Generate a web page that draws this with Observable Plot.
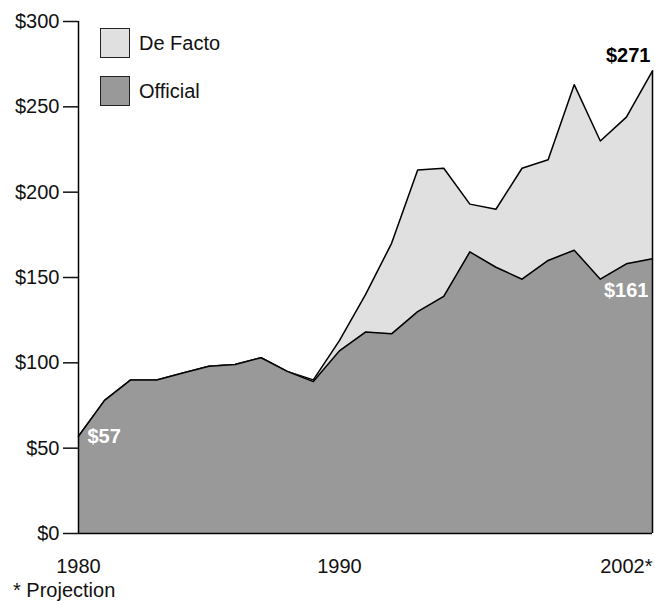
<!DOCTYPE html>
<html>
<head>
<meta charset="utf-8">
<script src="https://cdn.jsdelivr.net/npm/d3@7"></script>
<script src="https://cdn.jsdelivr.net/npm/@observablehq/plot@0.6"></script>
<style>
  body { margin: 0; background: #fff; font-family: "Liberation Sans", Arial, sans-serif; }
  #wrap { position: relative; width: 655px; }
  .legend { position: absolute; left: 100px; top: 0; font-size: 20px; color: #111; }
  .legend .item { position: absolute; left: 0; white-space: nowrap; }
  .legend .sw { position: absolute; left: 0; top: 0; width: 28px; height: 28px; border: 1px solid #222; }
  .legend .lb { position: absolute; left: 39px; top: 3px; line-height: 24px; }
  #caption { font-size: 20px; line-height: 22px; padding-left: 13px; color: #111; margin-top: -1px; }
</style>
</head>
<body>
<div id="wrap">
  <div id="chart"></div>
  <div class="legend" id="legend"></div>
  <div id="caption">* Projection</div>
</div>
<script>
const years = [1980,1981,1982,1983,1984,1985,1986,1987,1988,1989,1990,1991,1992,1993,1994,1995,1996,1997,1998,1999,2000,2001,2002];
const official = [57,78,90,90,94,98,99,103,95,89,107,118,117,130,139,165,156,149,160,166,149,158,161];
const deFacto = [57,78,90,90,94,98,99,103,95,90,113,140,170,213,214,193,190,214,219,263,230,244,271];
const seriesNames = ["De Facto", "Official"];
const seriesColors = ["#e0e0e0", "#999999"];
const yTicks = [0,50,100,150,200,250,300];
const xTicks = [1980, 1990];
const lastTick = [2002];

const data = years.map((y, i) => ({year: y, official: official[i], deFacto: deFacto[i]}));
const first = data[0];
const last = data[data.length - 1];

const plot = Plot.plot({
  width: 655,
  height: 580,
  marginTop: 21,
  marginBottom: 47,
  marginLeft: 78,
  marginRight: 3,
  style: {fontFamily: "'Liberation Sans', Arial, sans-serif", fontSize: "20px", color: "#111", background: "#fff"},
  x: {domain: [years[0], years[years.length - 1]]},
  y: {domain: [0, 300]},
  marks: [
    Plot.areaY(data, {x: "year", y: "deFacto", fill: seriesColors[0]}),
    Plot.lineY(data, {x: "year", y: "deFacto", stroke: "#000", strokeWidth: 1.5}),
    Plot.areaY(data, {x: "year", y: "official", fill: seriesColors[1]}),
    Plot.lineY(data, {x: "year", y: "official", stroke: "#000", strokeWidth: 1.5}),
    Plot.ruleX([last], {x: "year", y1: 0, y2: "deFacto", stroke: "#000", strokeWidth: 1.5}),
    Plot.ruleY([0], {stroke: "#000", strokeWidth: 1.5}),
    Plot.ruleX([first], {x: "year", y1: 0, y2: yTicks[yTicks.length - 1], stroke: "#000", strokeWidth: 1.5}),
    Plot.axisY({ticks: yTicks, tickSize: 15, tickPadding: 4, tickFormat: d => "$" + d, strokeWidth: 1.5, label: null, fontSize: 20}),
    Plot.axisX({ticks: xTicks, tickSize: 0, tickPadding: 25, tickFormat: d => String(d), label: null, fontSize: 20}),
    Plot.axisX({ticks: lastTick, tickSize: 0, tickPadding: 25, tickFormat: d => d + "*", textAnchor: "end", label: null, fontSize: 20}),
    Plot.text([last], {x: "year", y: "deFacto", text: d => "$" + d.deFacto, textAnchor: "end", dx: -2, dy: -15, fontWeight: "bold", fontSize: 20, fill: "#000"}),
    Plot.text([last], {x: "year", y: "official", text: d => "$" + d.official, textAnchor: "end", dx: -4, dy: 32, fontWeight: "bold", fontSize: 20, fill: "#fff"}),
    Plot.text([first], {x: "year", y: "official", text: d => "$" + d.official, textAnchor: "start", dx: 9, dy: 0, fontWeight: "bold", fontSize: 20, fill: "#fff"})
  ]
});
document.getElementById("chart").appendChild(plot);

const legend = document.getElementById("legend");
seriesNames.forEach((name, i) => {
  const item = document.createElement("div");
  item.className = "item";
  item.style.top = (28 + i * 48) + "px";
  item.innerHTML = `<div class="sw" style="background:${seriesColors[i]}"></div><div class="lb">${name}</div>`;
  legend.appendChild(item);
});
</script>
</body>
</html>
